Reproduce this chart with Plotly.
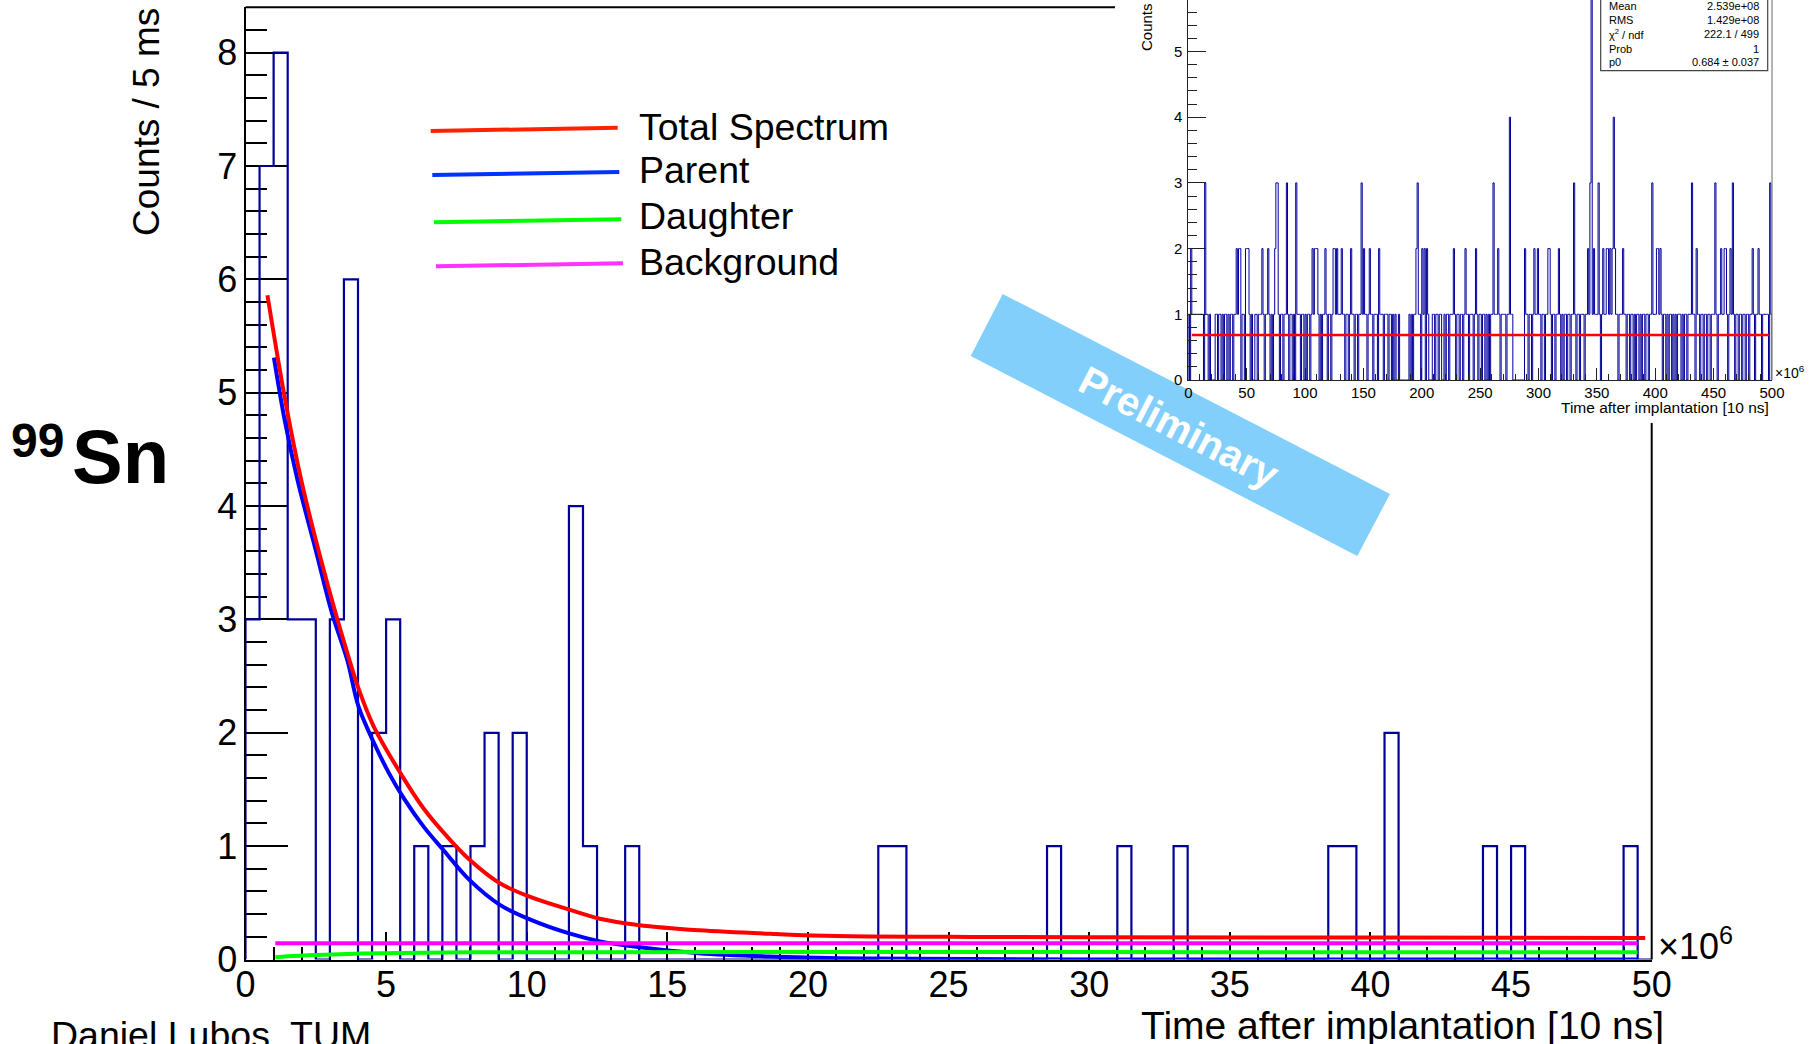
import numpy as np
import plotly.graph_objects as go

W, H = 1817, 1044

# ---------------- data ----------------
# main histogram: 100 bins, width 0.5 (x10^6 x 10 ns = 5 ms)
main_bin_width = 0.5
main_counts = [3, 7, 8, 3, 3, 0, 3, 6, 0, 2,
               3, 0, 1, 0, 1, 0, 1, 2, 0, 2,
               0, 0, 0, 4, 1, 0, 0, 1, 0, 0,
               0, 0, 0, 0, 0, 0, 0, 0, 0, 0,
               0, 0, 0, 0, 0, 1, 1, 0, 0, 0,
               0, 0, 0, 0, 0, 0, 0, 1, 0, 0,
               0, 0, 1, 0, 0, 0, 1, 0, 0, 0,
               0, 0, 0, 0, 0, 0, 0, 1, 1, 0,
               0, 2, 0, 0, 0, 0, 0, 0, 1, 0,
               1, 0, 0, 0, 0, 0, 0, 0, 1, 0]

total_x = [0.78, 1.4, 1.98, 2.5, 2.93, 3.48, 4.02, 4.57, 5.52, 6.34, 7.15, 7.97, 9.06, 10.15,
           11.51, 12.6, 13.96, 16.13, 18.86, 21.03, 25, 30, 40, 49.77]
total_y = [5.86, 4.95, 4.23, 3.70, 3.30, 2.82, 2.39, 2.05, 1.64, 1.33, 1.09, 0.88, 0.67, 0.55,
           0.44, 0.36, 0.305, 0.258, 0.225, 0.207, 0.2, 0.197, 0.193, 0.19]

parent_x = [1.01, 1.4, 1.85, 2.53, 3.07, 3.62, 4.02, 4.57, 5.11, 5.66, 6.34, 7.02, 7.97,
            9.06, 10.15, 11.51, 12.6, 13.96, 16.13, 18.86, 22, 30, 49.5]
parent_y = [5.31, 4.75, 4.23, 3.58, 3.06, 2.64, 2.23, 1.91, 1.64, 1.41, 1.17, 0.97, 0.70,
            0.48, 0.35, 0.23, 0.16, 0.11, 0.055, 0.025, 0.008, 0.0, 0.0]

daughter_x = [1.06, 1.5, 2.53, 3.9, 5.5, 8, 12, 20, 35, 49.5]
daughter_y = [0.02, 0.028, 0.04, 0.051, 0.058, 0.063, 0.065, 0.066, 0.065, 0.064]

background_x = [1.06, 49.5]
background_y = [0.143, 0.143]

legend_labels = ["Total Spectrum", "Parent", "Daughter", "Background"]

# inset histogram: 500 bins of width 1 (x10^6 x 10 ns)
inset_counts = [
    1, 0, 2, 1, 1, 1, 1, 1, 1, 1,  1, 1, 1, 0, 3, 1, 1, 0, 1, 0,
    0, 0, 0, 1, 1, 0, 1, 1, 0, 1,  0, 1, 1, 0, 1, 0, 1, 1, 0, 1,
    1, 2, 1, 2, 2, 0, 1, 1, 0, 2,
    2, 2, 1, 0, 1, 0, 0, 1, 1, 0,  1, 1, 1, 2, 1, 0, 1, 1, 2, 1,
    0, 1, 0, 1, 2, 3, 3, 1, 0, 1,  1, 0, 1, 1, 3, 1, 0, 1, 1, 0,
    1, 0, 3, 1, 1, 1, 0, 1, 1, 0,
    1, 0, 1, 1, 0, 1, 2, 1, 2, 2,  2, 1, 0, 1, 0, 1, 1, 2, 1, 0,
    1, 1, 0, 1, 2, 2, 1, 2, 1, 1,  1, 2, 1, 1, 0, 1, 1, 0, 1, 2,
    1, 1, 0, 1, 1, 0, 1, 1, 3, 1,
    2, 1, 1, 0, 1, 2, 1, 1, 0, 1,  1, 1, 0, 2, 1, 1, 1, 0, 1, 1,
    1, 0, 1, 1, 0, 1, 0, 1, 0, 0,  1, 0, 0, 0, 0, 0, 0, 0, 0, 1,
    0, 1, 0, 1, 1, 2, 3, 1, 1, 0,
    2, 1, 2, 0, 2, 1, 0, 0, 0, 1,  1, 0, 1, 1, 0, 1, 1, 0, 0, 1,
    0, 1, 1, 0, 1, 1, 1, 2, 1, 0,  1, 1, 0, 1, 1, 0, 1, 2, 1, 1,
    0, 1, 1, 1, 0, 1, 2, 1, 0, 1,
    1, 0, 1, 1, 0, 1, 0, 1, 0, 1,  1, 3, 1, 1, 1, 2, 1, 0, 1, 1,
    1, 1, 0, 1, 1, 4, 1, 1, 0, 0,  0, 0, 0, 0, 0, 0, 0, 0, 2, 1,
    1, 0, 1, 1, 0, 1, 2, 1, 1, 2,
    1, 1, 0, 1, 1, 0, 1, 1, 2, 2,  1, 0, 1, 1, 0, 1, 1, 2, 1, 0,
    1, 0, 1, 1, 0, 1, 1, 0, 1, 1,  3, 1, 0, 1, 1, 0, 1, 1, 1, 0,
    1, 1, 2, 1, 3, 6, 1, 2, 1, 1,
    1, 3, 1, 0, 1, 2, 1, 1, 2, 2,  1, 2, 1, 2, 4, 2, 1, 1, 0, 1,
    1, 1, 2, 1, 1, 0, 1, 1, 0, 1,  1, 0, 1, 0, 1, 1, 0, 1, 0, 1,
    1, 0, 1, 1, 0, 1, 1, 3, 1, 1,
    1, 2, 2, 1, 2, 1, 0, 1, 1, 0,  1, 0, 1, 1, 0, 1, 0, 1, 0, 1,
    1, 1, 0, 1, 0, 1, 1, 0, 1, 1,  1, 3, 1, 1, 0, 2, 1, 1, 0, 1,
    1, 0, 1, 1, 0, 1, 1, 0, 1, 1,
    1, 3, 1, 0, 1, 1, 2, 1, 1, 2,  2, 1, 0, 1, 2, 1, 3, 1, 0, 1,
    1, 0, 1, 1, 0, 1, 1, 0, 1, 1,  0, 1, 1, 2, 1, 0, 1, 1, 2, 1,
    1, 0, 1, 1, 1, 1, 1, 0, 3, 1,
]
inset_fit_x = [3, 497.5]
inset_fit_y = [0.684, 0.684]
stats_names = ["Mean", "RMS", "\u03c7<sup>2</sup> / ndf", "Prob", "p0"]
stats_values = ["2.539e+08", "1.429e+08", "222.1 / 499", "1", "0.684 \u00b1 0.037"]

# ---------------- helpers ----------------
def px(x):
    return x / W

def py(y):
    return 1 - y / H

FONT = "Liberation Sans, Arial, Helvetica, sans-serif"
NAVY = "#000099"

fig = go.Figure()

# main histogram as step outline
edges = np.arange(len(main_counts) + 1) * main_bin_width
hx = np.concatenate([[edges[0]], edges])
hy = np.concatenate([[0], main_counts, [0]])
fig.add_trace(go.Scatter(x=hx, y=hy, mode="lines", line=dict(color=NAVY, width=2.2, shape="hv"),
                         showlegend=False, hoverinfo="skip"))

curve_specs = [
    (parent_x, parent_y, "#0000ff"),
    (daughter_x, daughter_y, "#00ff00"),
    (background_x, background_y, "#ff00ff"),
    (total_x, total_y, "#ff0000"),
]
for cx, cy, col in curve_specs:
    fig.add_trace(go.Scatter(x=cx, y=cy, mode="lines",
                             line=dict(color=col, width=4, shape="spline", smoothing=1.0),
                             showlegend=False, hoverinfo="skip"))

# inset histogram
iedges = np.arange(len(inset_counts) + 1) * 1.0
ix = np.concatenate([[iedges[0]], iedges])
iy = np.concatenate([[0], inset_counts, [0]])
fig.add_trace(go.Scatter(x=ix, y=iy, mode="lines", line=dict(color=NAVY, width=1, shape="hv"),
                         xaxis="x2", yaxis="y2", showlegend=False, hoverinfo="skip"))
fig.add_trace(go.Scatter(x=inset_fit_x, y=inset_fit_y, mode="lines", line=dict(color="#ff0000", width=2.5),
                         xaxis="x2", yaxis="y2", showlegend=False, hoverinfo="skip"))

main_tickfont = dict(family=FONT, size=36, color="black")
inset_tickfont = dict(family=FONT, size=15, color="black")

fig.update_layout(
    width=W, height=H,
    margin=dict(l=0, r=0, t=0, b=0, autoexpand=False),
    paper_bgcolor="white", plot_bgcolor="rgba(0,0,0,0)",
    showlegend=False,
    xaxis=dict(domain=[px(245.5), px(1651.7)], range=[0, 50], anchor="y", automargin=False,
               showline=True, linecolor="black", linewidth=2, mirror=False,
               ticks="inside", ticklen=28, tickwidth=2, tickcolor="black",
               tickvals=list(range(0, 51, 5)), tickfont=main_tickfont,
               minor=dict(ticks="inside", ticklen=13, tickwidth=2, tickcolor="black", dtick=1, showgrid=False),
               showgrid=False, zeroline=False, layer="below traces", ticklabelstandoff=-8),
    yaxis=dict(domain=[py(959.5), py(7.3)], range=[0, 8.4], anchor="x", automargin=False,
               showline=True, linecolor="black", linewidth=2,
               ticks="inside", ticklen=42, tickwidth=2, tickcolor="black",
               dtick=1, tick0=0, tickfont=main_tickfont,
               minor=dict(ticks="inside", ticklen=21, tickwidth=2, tickcolor="black", dtick=0.2, showgrid=False),
               showgrid=False, zeroline=False, layer="below traces", ticklabelstandoff=-1),
    xaxis2=dict(domain=[px(1188.3), px(1772)], range=[0, 500], anchor="y2", automargin=False,
                showline=True, linecolor="#222", linewidth=1,
                ticks="inside", ticklen=12, tickwidth=1, tickcolor="#222",
                tickvals=list(range(0, 501, 50)), tickfont=inset_tickfont,
                minor=dict(ticks="inside", ticklen=6, tickwidth=1, tickcolor="#222", dtick=10, showgrid=False),
                showgrid=False, zeroline=False, ticklabelstandoff=-1),
    yaxis2=dict(domain=[py(380), 1.0], range=[0, 380 / 65.7], anchor="x2", automargin=False,
                showline=True, linecolor="#222", linewidth=1,
                ticks="inside", ticklen=18, tickwidth=1, tickcolor="#222",
                tickvals=[0, 1, 2, 3, 4, 5], tickfont=inset_tickfont,
                minor=dict(ticks="inside", ticklen=9, tickwidth=1, tickcolor="#222", dtick=0.2, showgrid=False),
                showgrid=False, zeroline=False, ticklabelstandoff=2),
)

shapes = []
# "Preliminary" banner (below everything)
banner = [(1002.7, 294), (1390, 494), (1357.3, 556), (970.7, 356)]
path = "M " + " L ".join(f"{px(x):.5f},{py(y):.5f}" for x, y in banner) + " Z"
shapes.append(dict(type="path", path=path, xref="paper", yref="paper",
                   fillcolor="#82cffc", line=dict(width=0), layer="below"))
# frame of main pad
shapes.append(dict(type="line", xref="paper", yref="paper", x0=px(245.5), x1=px(1115), y0=py(7.3), y1=py(7.3),
                   line=dict(color="black", width=2)))
shapes.append(dict(type="line", xref="paper", yref="paper", x0=px(1651.7), x1=px(1651.7), y0=py(423), y1=py(959.5),
                   line=dict(color="black", width=2)))
# inset right frame
shapes.append(dict(type="line", xref="paper", yref="paper", x0=px(1772), x1=px(1772), y0=py(0), y1=py(380),
                   line=dict(color="#666", width=1)))
# stats box
shapes.append(dict(type="rect", xref="paper", yref="paper", x0=px(1600.7), x1=px(1767.7), y0=py(-2), y1=py(70.7),
                   line=dict(color="#444", width=1.2), fillcolor="white"))
# legend lines (slightly slanted as in the original)
leg_lines = [((430.7, 131), (617.7, 127.7), "#ff2200"),
             ((432.3, 175), (619.3, 172), "#0033ff"),
             ((434, 222.3), (621.3, 219.3), "#00ff00"),
             ((436, 266.3), (623, 263.3), "#ff33ff")]
for (x0, y0), (x1, y1), col in leg_lines:
    shapes.append(dict(type="line", xref="paper", yref="paper", x0=px(x0), y0=py(y0), x1=px(x1), y1=py(y1),
                       line=dict(color=col, width=4)))
fig.update_layout(shapes=shapes)

ann = []
def text(t, x, y, size, xanchor="left", yanchor="middle", bold=False, angle=0, color="black"):
    ann.append(dict(text=f"<b>{t}</b>" if bold else t, x=px(x), y=py(y), xref="paper", yref="paper",
                    xanchor=xanchor, yanchor=yanchor, showarrow=False, textangle=angle,
                    font=dict(family=FONT, size=size, color=color)))

for lab, yc in zip(legend_labels, [127.5, 170.3, 215.5, 261.5]):
    text(lab, 637, yc, 37.5)
text("Time after implantation [10 ns]", 1666, 1025, 39, xanchor="right")
text("\u00d710<sup>6</sup>", 1656, 944, 36)
text("Counts / 5 ms", 147, 122, 37, xanchor="center", angle=-90)
text("99", 37, 440, 48, xanchor="center", bold=True)
text("Sn", 120, 456, 76, xanchor="center", bold=True)
text("Daniel Lubos, TUM", 49, 1035, 37.5)
text("Preliminary", 1179, 427, 40, xanchor="center", bold=True, angle=27.3, color="white")
# inset labels
text("Time after implantation [10 ns]", 1771, 408, 15.5, xanchor="right")
text("\u00d710<sup>6</sup>", 1773, 372, 14)
text("Counts", 1147, 27, 15, xanchor="center", angle=-90)
for i, (n, v) in enumerate(zip(stats_names, stats_values)):
    yc = [5.7, 20, 34.3, 49, 62.3][i]
    text(n, 1607, yc, 11)
    text(v, 1761, yc, 11, xanchor="right")
fig.update_layout(annotations=ann)

fig.write_html("out.html", config=dict(displayModeBar=False),
               post_script="document.body.style.margin='0';document.body.style.overflow='hidden';")
